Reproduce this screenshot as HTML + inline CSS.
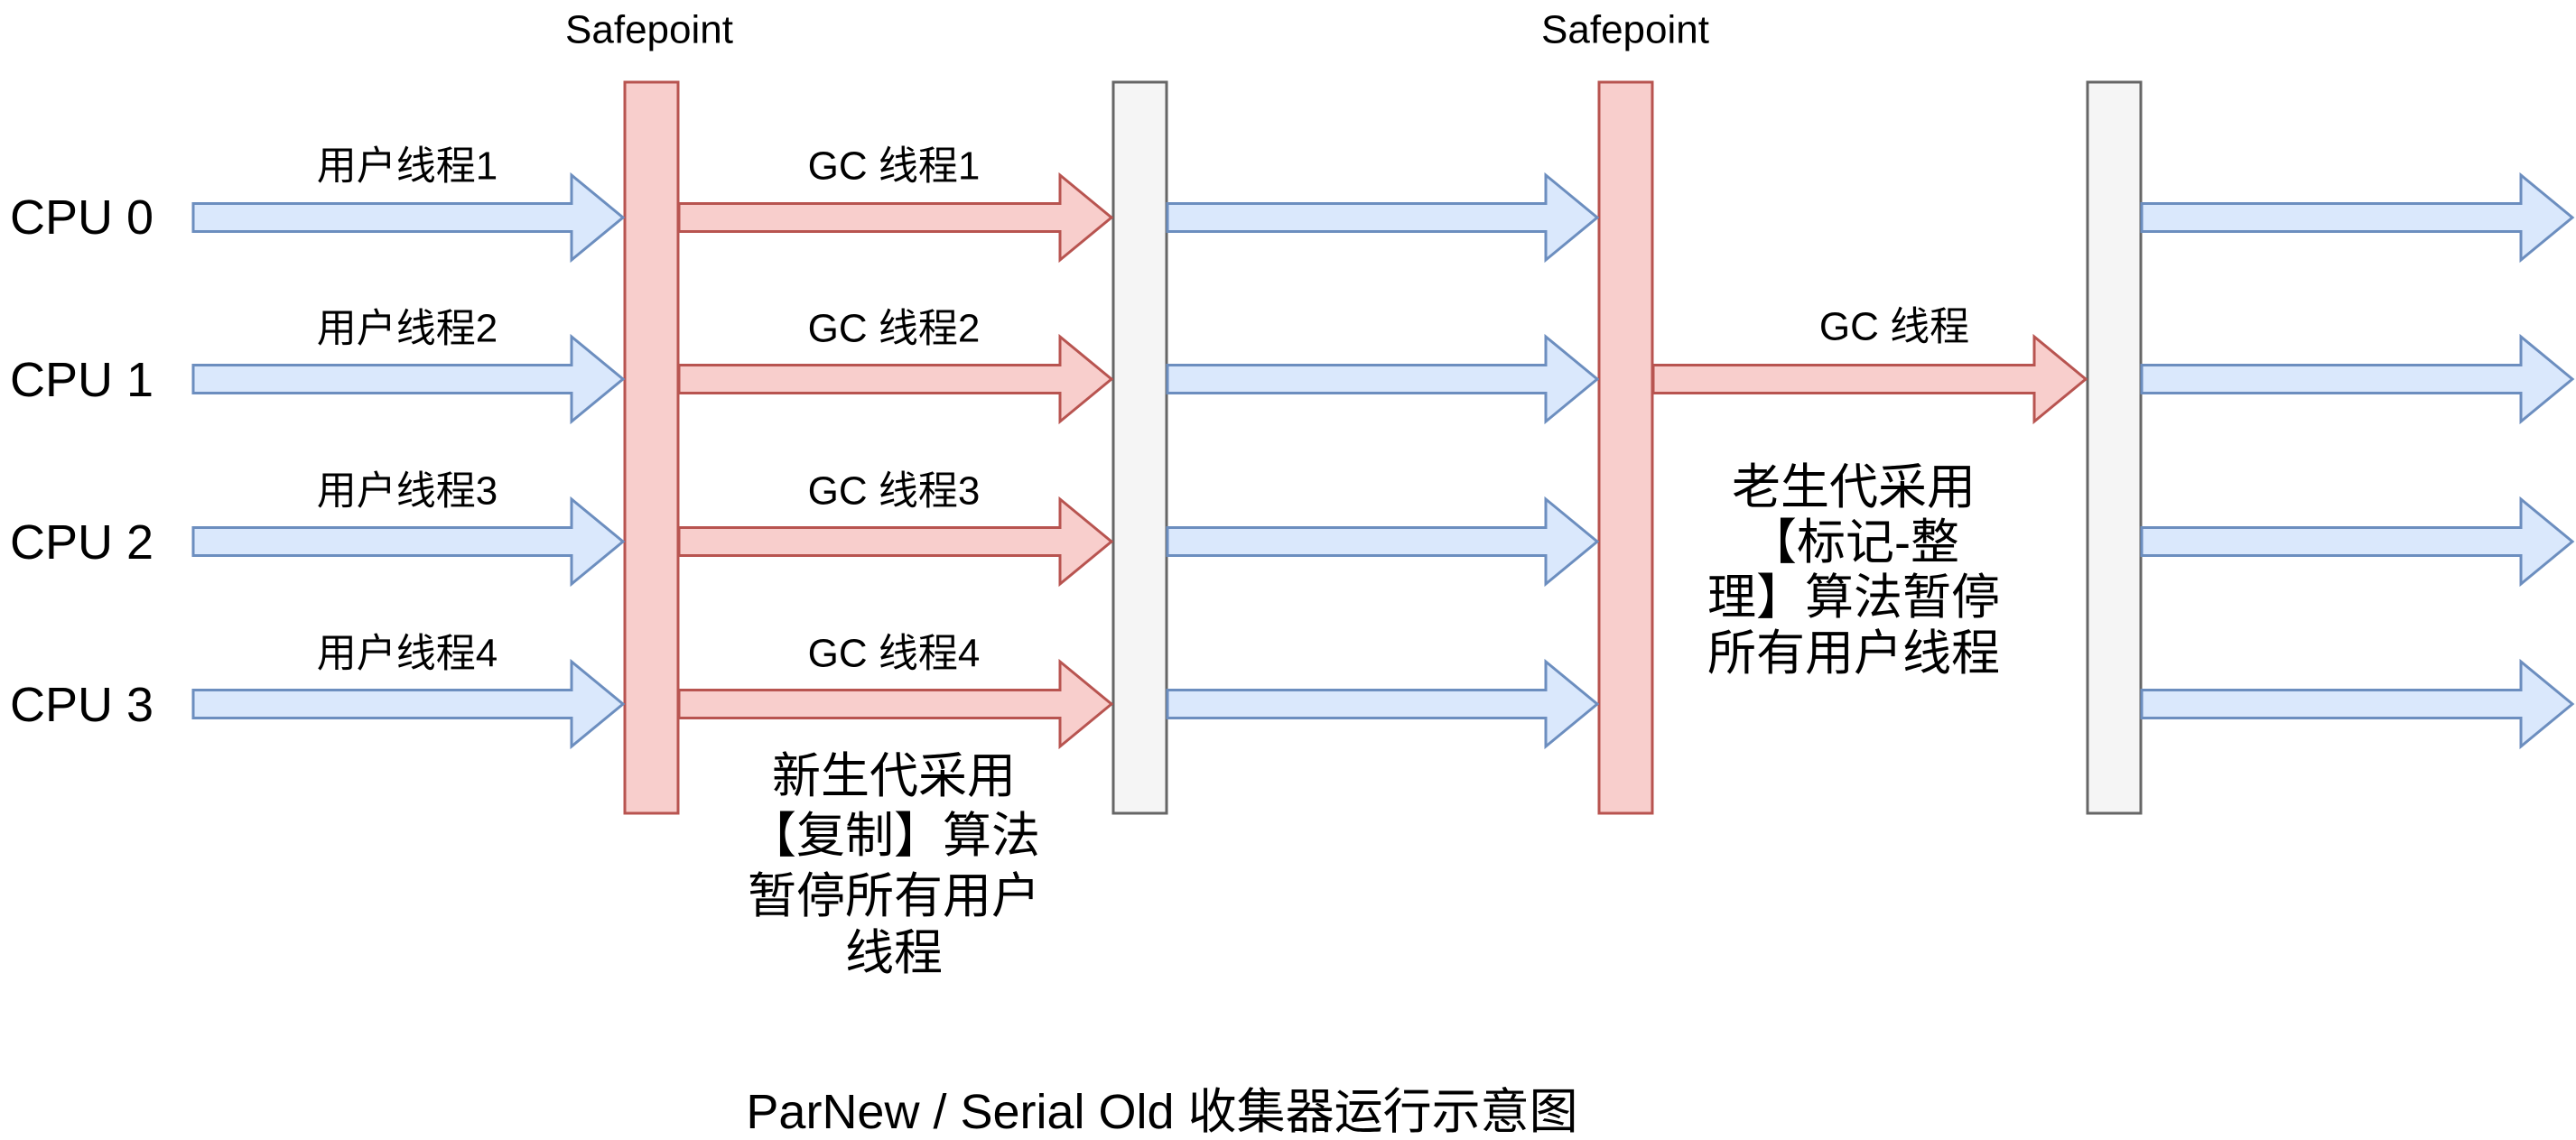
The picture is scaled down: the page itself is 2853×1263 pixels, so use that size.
<!DOCTYPE html>
<html><head><meta charset="utf-8"><style>
html,body{margin:0;padding:0;background:#fff;}
svg{display:block;}
text{font-family:"Liberation Sans","Noto Sans CJK SC",sans-serif;fill:#000;}
</style></head><body>
<svg width="2853" height="1263" viewBox="0 0 2853 1263" xmlns="http://www.w3.org/2000/svg">
<!-- bars -->
<rect x="692" y="91" width="59" height="810" fill="#f8cecc" stroke="#b85450" stroke-width="3"/>
<rect x="1233" y="91" width="59" height="810" fill="#f5f5f5" stroke="#666666" stroke-width="3"/>
<rect x="1771" y="91" width="59" height="810" fill="#f8cecc" stroke="#b85450" stroke-width="3"/>
<rect x="2312" y="91" width="59" height="810" fill="#f5f5f5" stroke="#666666" stroke-width="3"/>

<g stroke-width="3" stroke-linejoin="miter">
<g fill="#dae8fc" stroke="#6c8ebf">
<polygon points="214,225.5 633,225.5 633,194 690,241 633,288 633,256.5 214,256.5"/>
<polygon points="214,404.5 633,404.5 633,373 690,420 633,467 633,435.5 214,435.5"/>
<polygon points="214,584.5 633,584.5 633,553 690,600 633,647 633,615.5 214,615.5"/>
<polygon points="214,764.5 633,764.5 633,733 690,780 633,827 633,795.5 214,795.5"/>
<polygon points="1293,225.5 1712,225.5 1712,194 1769,241 1712,288 1712,256.5 1293,256.5"/>
<polygon points="1293,404.5 1712,404.5 1712,373 1769,420 1712,467 1712,435.5 1293,435.5"/>
<polygon points="1293,584.5 1712,584.5 1712,553 1769,600 1712,647 1712,615.5 1293,615.5"/>
<polygon points="1293,764.5 1712,764.5 1712,733 1769,780 1712,827 1712,795.5 1293,795.5"/>
<polygon points="2372,225.5 2792,225.5 2792,194 2849,241 2792,288 2792,256.5 2372,256.5"/>
<polygon points="2372,404.5 2792,404.5 2792,373 2849,420 2792,467 2792,435.5 2372,435.5"/>
<polygon points="2372,584.5 2792,584.5 2792,553 2849,600 2792,647 2792,615.5 2372,615.5"/>
<polygon points="2372,764.5 2792,764.5 2792,733 2849,780 2792,827 2792,795.5 2372,795.5"/>
</g>
<g fill="#f8cecc" stroke="#b85450">
<polygon points="752,225.5 1174,225.5 1174,194 1231,241 1174,288 1174,256.5 752,256.5"/>
<polygon points="752,404.5 1174,404.5 1174,373 1231,420 1174,467 1174,435.5 752,435.5"/>
<polygon points="752,584.5 1174,584.5 1174,553 1231,600 1174,647 1174,615.5 752,615.5"/>
<polygon points="752,764.5 1174,764.5 1174,733 1231,780 1174,827 1174,795.5 752,795.5"/>
<polygon points="1831,404.5 2253,404.5 2253,373 2310,420 2253,467 2253,435.5 1831,435.5"/>
</g>
</g>

<g font-size="44" text-anchor="middle" dominant-baseline="central">
<text x="719" y="33">Safepoint</text>
<text x="1800" y="33">Safepoint</text>
<text x="451" y="184">用户线程1</text>
<text x="451" y="364">用户线程2</text>
<text x="451" y="544">用户线程3</text>
<text x="451" y="724">用户线程4</text>
<text x="990" y="184">GC 线程1</text>
<text x="990" y="364">GC 线程2</text>
<text x="990" y="544">GC 线程3</text>
<text x="990" y="724">GC 线程4</text>
<text x="2098" y="362">GC 线程</text>
</g>
<g font-size="54" dominant-baseline="central">
<text x="11" y="241">CPU 0</text>
<text x="11" y="421">CPU 1</text>
<text x="11" y="601">CPU 2</text>
<text x="11" y="781">CPU 3</text>
</g>
<g font-size="54" text-anchor="middle" dominant-baseline="central">
<text x="990" y="860">新生代采用</text>
<text x="990" y="926">【复制】算法</text>
<text x="990" y="993">暂停所有用户</text>
<text x="990" y="1056">线程</text>
<text x="2053" y="540">老生代采用</text>
<text x="2053" y="601">【标记-整</text>
<text x="2053" y="662">理】算法暂停</text>
<text x="2053" y="724">所有用户线程</text>
<text x="1287" y="1232">ParNew / Serial Old 收集器运行示意图</text>
</g>
</svg>
</body></html>
